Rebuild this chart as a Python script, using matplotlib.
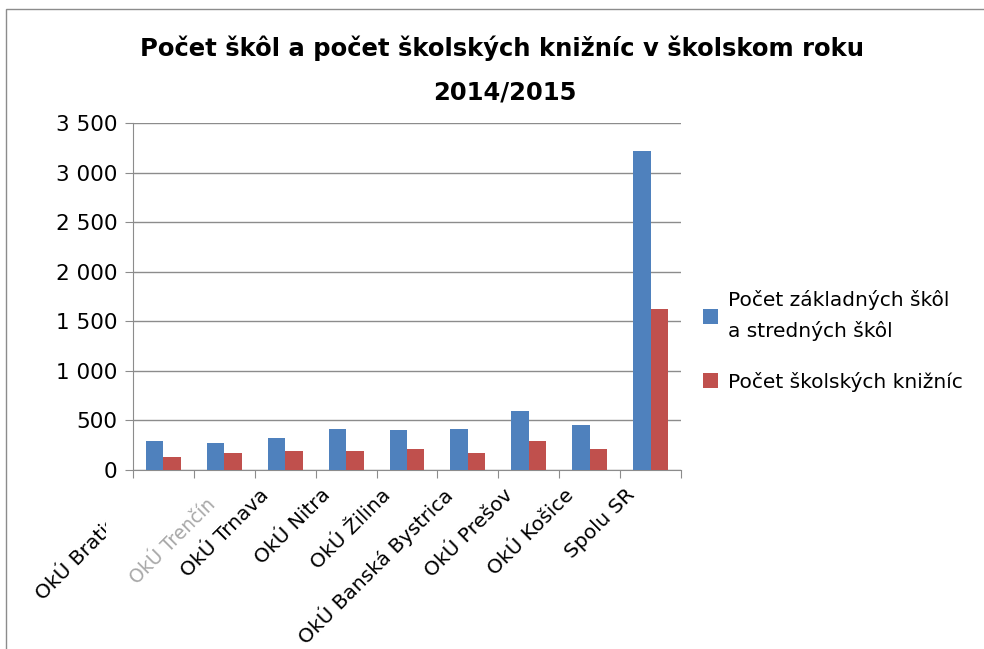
import numpy as np
import matplotlib
matplotlib.use('Agg')
import matplotlib.pyplot as plt
from matplotlib.patches import Rectangle
from matplotlib.ticker import FuncFormatter
from matplotlib.transforms import Bbox, ScaledTranslation

plt.rcParams['font.family'] = ['DejaVu Sans']

regions = ['OkÚ Bratislava', 'OkÚ Trenčín', 'OkÚ Trnava', 'OkÚ Nitra', 'OkÚ Žilina',
           'OkÚ Banská Bystrica', 'OkÚ Prešov', 'OkÚ Košice', 'Spolu SR']
schools = [292, 272, 322, 413, 403, 413, 594, 453, 3215]
libraries = [131, 171, 191, 191, 211, 171, 292, 211, 1622]
series_names = ['Počet základných škôl\na stredných škôl', 'Počet školských knižníc']
title_lines = ['Počet škôl a počet školských knižníc v školskom roku', '2014/2015']

W, H = 984, 649
fig = plt.figure(figsize=(W / 100, H / 100), dpi=100)
ax = fig.add_axes([133 / W, 1 - 470 / H, (681 - 133) / W, (470 - 123) / H])

x = np.arange(len(regions))
bw = 1 / 3.5
ax.bar(x - bw / 2, schools, bw, color='#4F81BD', label=series_names[0], zorder=3)
ax.bar(x + bw / 2, libraries, bw, color='#C0504D', label=series_names[1], zorder=3)

ax.set_xlim(-0.5, len(regions) - 0.5)
ax.set_ylim(0, 3500)
ax.set_yticks(np.arange(0, 3501, 500))
ax.yaxis.set_major_formatter(FuncFormatter(lambda v, p: f'{int(v):,}'.replace(',', ' ')))
ax.grid(axis='y', color='#8c8c8c', linewidth=1, zorder=0)
for s in ['top', 'right']:
    ax.spines[s].set_visible(False)
for s in ['left', 'bottom']:
    ax.spines[s].set_color('#8c8c8c')
ax.tick_params(axis='y', length=6, color='#8c8c8c', labelsize=15.5, pad=5)

# category boundary ticks on x axis
ax.set_xticks(np.arange(-0.5, len(regions), 1))
ax.set_xticklabels([])
ax.tick_params(axis='x', length=6, color='#8c8c8c')

# rotated category labels
for i, name in enumerate(regions):
    dx, dy = -19, -22
    if i == 1:
        dx, dy = -12, -32
    off = ScaledTranslation(dx / 100, dy / 100, fig.dpi_scale_trans)
    t = ax.text(i, 0, name, transform=ax.get_xaxis_transform() + off,
                rotation=45, rotation_mode='anchor', ha='right', va='center',
                fontsize=14.5, clip_on=False)
    if i == 0:
        t.set_clip_box(Bbox.from_extents(0, 0, 106, H))
        t.set_clip_on(True)
    if i == 1:
        t.set_color('#a8a8a8')
        t.set_fontsize(13.5)

leg = ax.legend(loc='center left', bbox_to_anchor=(685 / W, 1 - 341 / H),
                bbox_transform=fig.transFigure, frameon=False, fontsize=14.5,
                handlelength=0.75, handleheight=0.75, handletextpad=0.5, labelspacing=1.5)
leg.get_texts()[0].set_linespacing(1.7)

fig.text(502 / W, 1 - 48 / H, title_lines[0], ha='center', va='center',
         fontsize=17.5, fontweight='bold')
fig.text(505 / W, 1 - 92 / H, title_lines[1], ha='center', va='center',
         fontsize=17.5, fontweight='bold')

fig.patches.append(Rectangle((6 / W, -0.1), 1.2, 1.1 - 9 / H, transform=fig.transFigure,
                             fill=False, edgecolor='#8c8c8c', linewidth=1))

fig.savefig('out.png', dpi=100)
